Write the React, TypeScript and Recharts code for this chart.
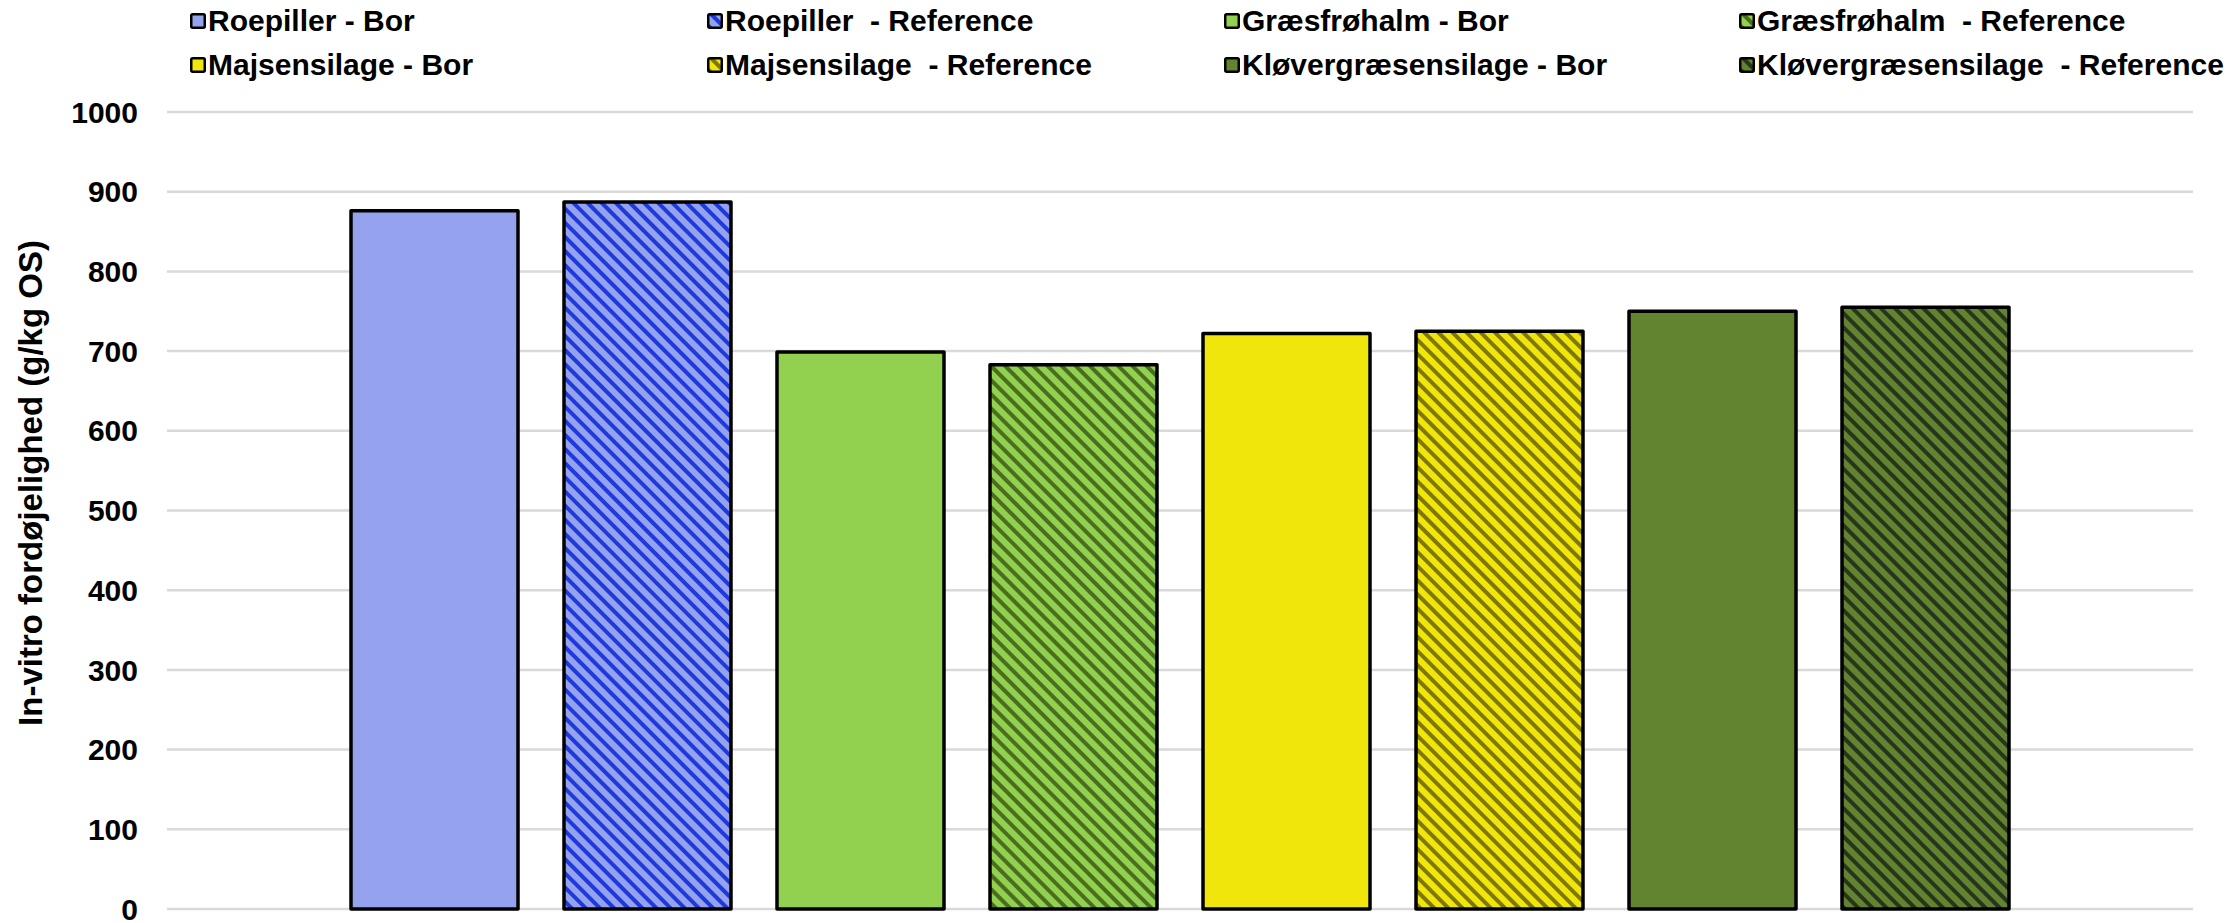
import React from "react";
import { BarChart, Bar, XAxis, YAxis, CartesianGrid, Label } from "recharts";

const seriesNames = [
  "Roepiller - Bor",
  "Roepiller  - Reference",
  "Græsfrøhalm - Bor",
  "Græsfrøhalm  - Reference",
  "Majsensilage - Bor",
  "Majsensilage  - Reference",
  "Kløvergræsensilage - Bor",
  "Kløvergræsensilage  - Reference",
];
const values = [876, 887, 699, 683, 722, 725, 750, 755];
const baseColors = ["#95A3EE", "#95A3EE", "#92D050", "#92D050", "#F0E60C", "#F0E60C", "#62832F", "#62832F"];
const stripeColors = ["#1F3ADB", "#1F3ADB", "#4A6E1E", "#4A6E1E", "#7F7800", "#7F7800", "#27361A", "#27361A"];
const hatched = [false, true, false, true, false, true, false, true];
const yTicks = [0, 100, 200, 300, 400, 500, 600, 700, 800, 900, 1000];

// legend is laid out row by row, 4 columns
const legendOrder = [0, 1, 2, 3, 4, 5, 6, 7];
const legendCols = [190, 707, 1224, 1739];
const legendRows = [21, 65];

const FONT = "'Liberation Sans', Arial, sans-serif";

const row: Record<string, number | string> = { name: "x" };
values.forEach((v, i) => {
  row["s" + i] = v;
});
const data = [row];

const fillFor = (i: number) => (hatched[i] ? `url(#hatch${i})` : baseColors[i]);

const YLabel = () => (
  <text
    x={30}
    y={483}
    transform="rotate(-90 30 483)"
    textAnchor="middle"
    dominantBaseline="central"
    fontFamily={FONT}
    fontWeight="bold"
    fontSize={33}
    fill="#000"
  >
    In-vitro fordøjelighed (g/kg OS)
  </text>
);

export default function App() {
  return (
    <div style={{ position: "absolute", left: 0, top: 0, width: 2228, height: 923, background: "#fff" }}>
      <BarChart
        width={2228}
        height={923}
        data={data}
        margin={{ top: 112, right: 35, bottom: 14, left: 0 }}
        barSize={167}
        barGap={46}
      >
        <defs>
          {seriesNames.map((_, i) =>
            hatched[i] ? (
              <pattern
                key={i}
                id={`hatch${i}`}
                patternUnits="userSpaceOnUse"
                width={10}
                height={10}
                patternTransform="rotate(-45)"
              >
                <rect x={0} y={0} width={10} height={10} fill={baseColors[i]} />
                <rect x={0} y={0} width={4} height={10} fill={stripeColors[i]} />
              </pattern>
            ) : null
          )}
        </defs>
        <CartesianGrid vertical={false} stroke="#D9D9D9" strokeWidth={2.5} />
        <XAxis dataKey="name" hide />
        <YAxis
          width={167}
          domain={[0, 1000]}
          ticks={yTicks}
          interval={0}
          axisLine={false}
          tickLine={false}
          tickMargin={23}
          tick={{ fontFamily: FONT, fontWeight: "bold", fontSize: 30, fill: "#000" }}
        >
          <Label content={<YLabel />} />
        </YAxis>
        {seriesNames.map((n, i) => (
          <Bar
            key={n}
            dataKey={"s" + i}
            name={n}
            fill={fillFor(i)}
            stroke="#000"
            strokeWidth={3.5}
            strokeLinejoin="round"
            isAnimationActive={false}
          />
        ))}
      </BarChart>
      {legendOrder.map((idx, k) => {
        const left = legendCols[k % 4];
        const top = legendRows[Math.floor(k / 4)];
        return (
          <div
            key={idx}
            style={{
              position: "absolute",
              left,
              top: top - 18,
              height: 36,
              display: "flex",
              alignItems: "center",
              fontFamily: FONT,
              fontWeight: "bold",
              fontSize: 30,
              whiteSpace: "pre",
              color: "#000",
            }}
          >
            <svg width={16} height={16} style={{ marginRight: 2 }}>
              <rect x={1.25} y={1.25} width={13.5} height={13.5} rx={1.5} fill={fillFor(idx)} stroke="#000" strokeWidth={2.5} />
            </svg>
            {seriesNames[idx]}
          </div>
        );
      })}
    </div>
  );
}
